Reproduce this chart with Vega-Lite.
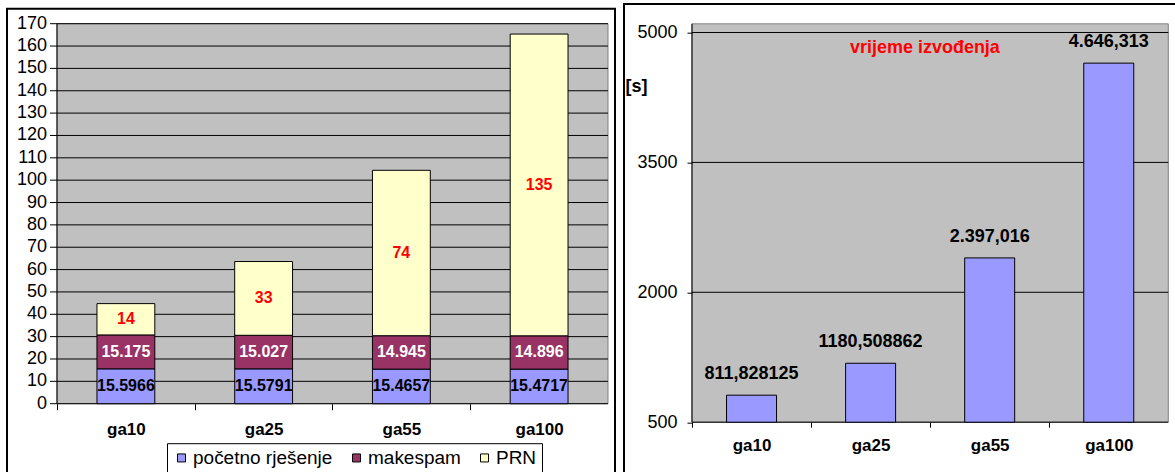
{
  "$schema": "https://vega.github.io/schema/vega-lite/v6.json",
  "background": "white",
  "padding": {"left": 6, "top": 2.7, "right": 0, "bottom": 0},
  "spacing": 7,
  "config": {
    "font": "Liberation Sans",
    "view": {"stroke": "black", "strokeWidth": 2, "fill": "white"},
    "axis": {"labelColor": "black", "tickColor": "black", "titleColor": "black", "labelFont": "Liberation Sans", "titleFont": "Liberation Sans"},
    "text": {"font": "Liberation Sans"}
  },
  "datasets": {
    "stack": [
      {"cat": "ga10", "series": "početno rješenje", "o": 1, "value": 15.5966, "label": "15.5966"},
      {"cat": "ga10", "series": "makespam", "o": 2, "value": 15.175, "label": "15.175"},
      {"cat": "ga10", "series": "PRN", "o": 3, "value": 14, "label": "14"},
      {"cat": "ga25", "series": "početno rješenje", "o": 1, "value": 15.5791, "label": "15.5791"},
      {"cat": "ga25", "series": "makespam", "o": 2, "value": 15.027, "label": "15.027"},
      {"cat": "ga25", "series": "PRN", "o": 3, "value": 33, "label": "33"},
      {"cat": "ga55", "series": "početno rješenje", "o": 1, "value": 15.4657, "label": "15.4657"},
      {"cat": "ga55", "series": "makespam", "o": 2, "value": 14.945, "label": "14.945"},
      {"cat": "ga55", "series": "PRN", "o": 3, "value": 74, "label": "74"},
      {"cat": "ga100", "series": "početno rješenje", "o": 1, "value": 15.4717, "label": "15.4717"},
      {"cat": "ga100", "series": "makespam", "o": 2, "value": 14.896, "label": "14.896"},
      {"cat": "ga100", "series": "PRN", "o": 3, "value": 135, "label": "135"}
    ],
    "runtime": [
      {"cat": "ga10", "t": 811.828125, "label": "811,828125"},
      {"cat": "ga25", "t": 1180.508862, "label": "1180,508862"},
      {"cat": "ga55", "t": 2397.016, "label": "2.397,016"},
      {"cat": "ga100", "t": 4646.313, "label": "4.646,313"}
    ],
    "gridL": [{"v": 0}, {"v": 10}, {"v": 20}, {"v": 30}, {"v": 40}, {"v": 50}, {"v": 60}, {"v": 70}, {"v": 80}, {"v": 90}, {"v": 100}, {"v": 110}, {"v": 120}, {"v": 130}, {"v": 140}, {"v": 150}, {"v": 160}, {"v": 170}],
    "gridR": [{"v": 500}, {"v": 2000}, {"v": 3500}, {"v": 5000}],
    "note": [{"text": "vrijeme izvođenja"}]
  },
  "hconcat": [
    {
      "width": 608,
      "height": 470,
      "resolve": {"scale": {"x": "independent"}, "axis": {"x": "independent"}},
      "layer": [
        {
          "layer": [
            {
              "data": {"values": [{"a": 1}]},
              "mark": {"type": "rect", "fill": "#C0C0C0", "stroke": "#808080", "strokeWidth": 1},
              "encoding": {
                "x": {"datum": 0, "type": "quantitative", "scale": {"domain": [-0.090744, 1.012704], "nice": false, "zero": false}, "axis": null},
                "x2": {"datum": 1},
                "y": {"datum": 0, "type": "quantitative", "scale": {"domain": [-33.55, 176.71], "nice": false, "zero": false}, "axis": null},
                "y2": {"datum": 170}
              }
            },
            {
              "data": {"name": "gridL"},
              "mark": {"type": "rule", "color": "black", "strokeWidth": 1},
              "encoding": {
                "x": {"datum": 0, "type": "quantitative", "axis": null},
                "x2": {"datum": 1},
                "y": {"field": "v", "type": "quantitative", "axis": null}
              }
            },
            {
              "data": {"name": "gridL"},
              "mark": {"type": "rule", "color": "black", "strokeWidth": 1},
              "encoding": {
                "x": {"datum": -0.012704, "type": "quantitative", "axis": null},
                "x2": {"datum": 0},
                "y": {"field": "v", "type": "quantitative", "axis": null}
              }
            },
            {
              "data": {"name": "gridL"},
              "mark": {"type": "text", "fontSize": 18, "align": "right", "baseline": "middle", "color": "black"},
              "encoding": {
                "x": {"datum": -0.018149, "type": "quantitative", "axis": null},
                "y": {"field": "v", "type": "quantitative", "axis": null},
                "text": {"field": "v", "type": "quantitative", "format": "d"}
              }
            },
            {
              "data": {"values": [{"a": 1}]},
              "mark": {"type": "rule", "color": "black", "strokeWidth": 1},
              "encoding": {
                "x": {"datum": 0, "type": "quantitative", "axis": null},
                "y": {"datum": 0, "type": "quantitative", "axis": null},
                "y2": {"datum": 170}
              }
            }
          ]
        },
        {
          "data": {"name": "stack"},
          "layer": [
            {
              "mark": {"type": "bar", "stroke": "black", "strokeWidth": 1},
              "encoding": {
                "x": {"field": "cat", "type": "nominal", "sort": ["ga10", "ga25", "ga55", "ga100"],
                  "scale": {"paddingInner": 0.58, "paddingOuter": 0.4969, "align": 0.657},
                  "axis": {"title": null, "orient": "bottom", "offset": -75, "domain": false, "grid": false, "ticks": true, "tickSize": 6, "bandPosition": 0, "tickOffset": -39.95, "labelOffset": 39.95, "labelAngle": 0, "labelFontSize": 17, "labelFontWeight": "bold", "labelPadding": 12, "zindex": 1}},
                "y": {"field": "value", "type": "quantitative", "stack": "zero", "axis": null},
                "color": {"field": "series", "type": "nominal",
                  "scale": {"domain": ["početno rješenje", "makespam", "PRN"], "range": ["#9999FF", "#993366", "#FFFFCC"]},
                  "legend": {"orient": "none", "legendX": 160, "legendY": 434.5, "direction": "horizontal", "title": null, "strokeColor": "black", "fillColor": "white", "padding": 5, "labelFontSize": 19, "labelColor": "black", "symbolType": "square", "symbolSize": 64, "symbolStrokeColor": "black", "symbolStrokeWidth": 1, "labelOffset": 2, "columnPadding": 14}},
                "order": {"field": "o", "type": "quantitative"}
              }
            },
            {
              "transform": [
                {"stack": "value", "groupby": ["cat"], "sort": [{"field": "o", "order": "ascending"}], "as": ["y0", "y1"]},
                {"calculate": "(datum.y0 + datum.y1) / 2", "as": "ym"}
              ],
              "mark": {"type": "text", "fontSize": 16, "fontWeight": "bold", "baseline": "middle", "align": "center"},
              "encoding": {
                "x": {"field": "cat", "type": "nominal", "sort": ["ga10", "ga25", "ga55", "ga100"]},
                "y": {"field": "ym", "type": "quantitative", "axis": null},
                "text": {"field": "label"},
                "fill": {"field": "series", "type": "nominal", "scale": {"domain": ["početno rješenje", "makespam", "PRN"], "range": ["black", "white", "red"]}, "legend": null}
              }
            }
          ]
        }
      ]
    },
    {
      "width": 560,
      "height": 470,
      "view": {"stroke": null, "fill": "white"},
      "resolve": {"scale": {"x": "independent"}, "axis": {"x": "independent"}},
      "layer": [
        {
          "layer": [
            {
              "data": {"values": [{"a": 1}]},
              "mark": {"type": "rect", "filled": false, "stroke": "black", "strokeWidth": 2},
              "encoding": {
                "x": {"datum": -0.142767, "type": "quantitative", "scale": {"domain": [-0.142767, 1.032963], "nice": false, "zero": false}, "axis": null},
                "x2": {"datum": 1.05},
                "y": {"datum": -267, "type": "quantitative", "scale": {"domain": [-152.4, 5274.8], "nice": false, "zero": false}},
                "y2": {"datum": 5330.2}
              }
            },
            {
              "data": {"values": [{"a": 1}]},
              "mark": {"type": "rect", "fill": "#C0C0C0", "stroke": "#808080", "strokeWidth": 1},
              "encoding": {
                "x": {"datum": 0, "type": "quantitative", "axis": null},
                "x2": {"datum": 1},
                "y": {"datum": 500, "type": "quantitative"},
                "y2": {"datum": 5100}
              }
            },
            {
              "data": {"name": "gridR"},
              "mark": {"type": "rule", "color": "black", "strokeWidth": 1},
              "encoding": {
                "x": {"datum": 0, "type": "quantitative", "axis": null},
                "x2": {"datum": 1},
                "y": {"field": "v", "type": "quantitative"}
              }
            },
            {
              "data": {"values": [{"a": 1}]},
              "mark": {"type": "rule", "color": "black", "strokeWidth": 1},
              "encoding": {
                "x": {"datum": 0, "type": "quantitative", "axis": null},
                "y": {"datum": 500, "type": "quantitative"},
                "y2": {"datum": 5100}
              }
            },
            {
              "data": {"name": "note"},
              "mark": {"type": "text", "color": "red", "fontSize": 18, "fontWeight": "bold", "align": "center", "baseline": "middle"},
              "encoding": {
                "x": {"datum": 0.489, "type": "quantitative", "axis": null},
                "y": {"datum": 4825, "type": "quantitative"},
                "text": {"field": "text"}
              }
            }
          ]
        },
        {
          "data": {"name": "runtime"},
          "layer": [
            {
              "mark": {"type": "bar", "color": "#9999FF", "stroke": "black", "strokeWidth": 1},
              "encoding": {
                "x": {"field": "cat", "type": "nominal", "sort": ["ga10", "ga25", "ga55", "ga100"],
                  "scale": {"paddingInner": 0.58, "paddingOuter": 0.64146, "align": 0.6712},
                  "axis": {"title": null, "orient": "bottom", "offset": -56.5, "domain": false, "grid": false, "ticks": true, "tickSize": 5, "bandPosition": 0, "tickOffset": -34.53, "labelOffset": 34.53, "labelAngle": 0, "labelFontSize": 17, "labelFontWeight": "bold", "labelPadding": 10, "zindex": 1}},
                "y": {"field": "t", "type": "quantitative",
                  "axis": {"title": "[s]", "orient": "left", "titleAngle": 0, "titleX": -56, "titleY": 77.8, "titleAlign": "center", "titleBaseline": "middle", "titleFontSize": 18, "titleFontWeight": "bold", "values": [500, 2000, 3500, 5000], "format": "d", "labelOverlap": false, "offset": -68, "domain": false, "grid": false, "ticks": true, "tickSize": 5, "labelPadding": 10, "labelFontSize": 18, "zindex": 1}},
                "y2": {"datum": 500}
              }
            },
            {
              "mark": {"type": "text", "fontSize": 18, "fontWeight": "bold", "baseline": "alphabetic", "align": "center", "dy": -16, "color": "black"},
              "encoding": {
                "x": {"field": "cat", "type": "nominal", "sort": ["ga10", "ga25", "ga55", "ga100"]},
                "y": {"field": "t", "type": "quantitative"},
                "text": {"field": "label"}
              }
            }
          ]
        }
      ]
    }
  ]
}
